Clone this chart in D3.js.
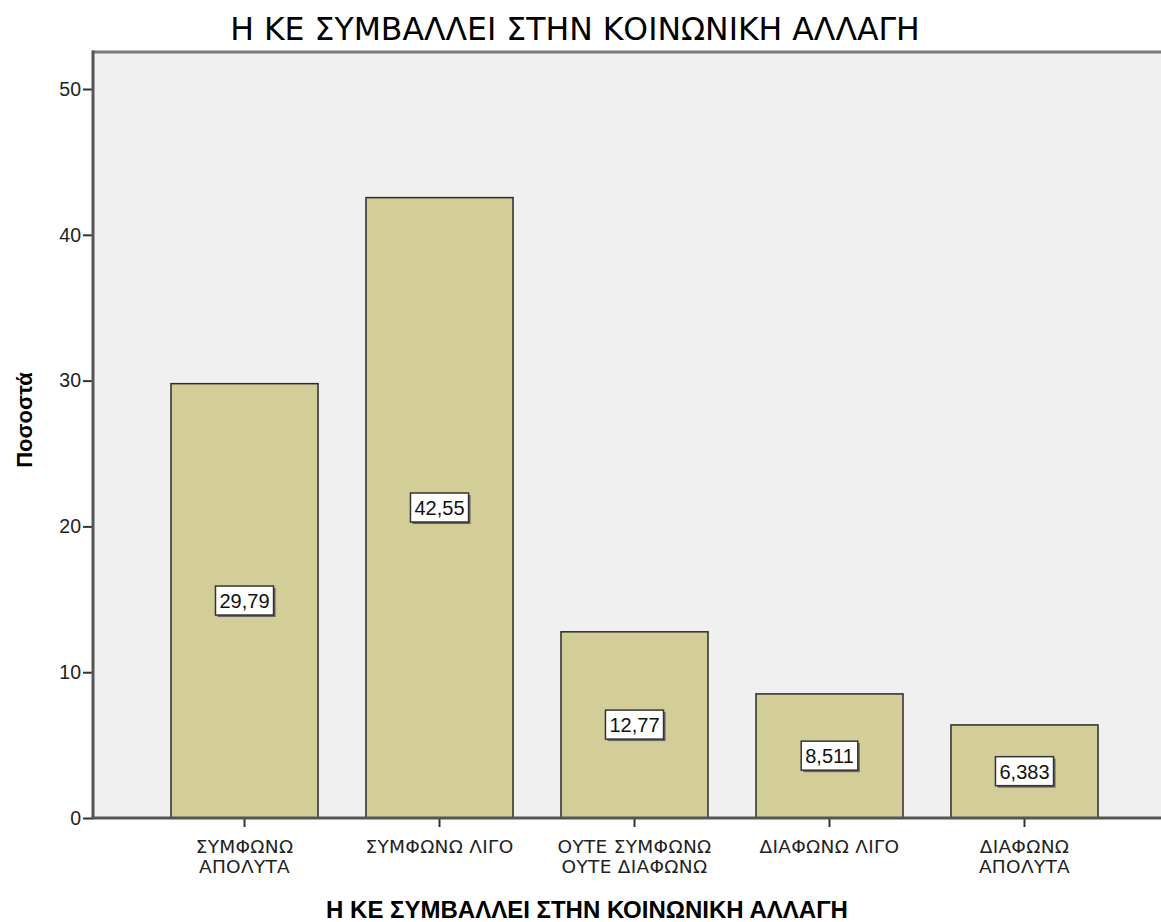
<!DOCTYPE html>
<html>
<head>
<meta charset="utf-8">
<script src="https://cdn.jsdelivr.net/npm/d3@7"></script>
<style>
  body { margin: 0; background: #fff; }
  svg { display: block; font-family: "Liberation Sans", Arial, sans-serif; }
</style>
</head>
<body>
<svg id="chart" width="1161" height="922"></svg>
<script>
// data
const categories = [
  ['ΣΥΜΦΩΝΩ', 'ΑΠΟΛΥΤΑ'],
  ['ΣΥΜΦΩΝΩ ΛΙΓΟ'],
  ['ΟΥΤΕ ΣΥΜΦΩΝΩ', 'ΟΥΤΕ ΔΙΑΦΩΝΩ'],
  ['ΔΙΑΦΩΝΩ ΛΙΓΟ'],
  ['ΔΙΑΦΩΝΩ', 'ΑΠΟΛΥΤΑ']
];
const percents = [29.79, 42.55, 12.77, 8.511, 6.383];
const yTicks = [0, 10, 20, 30, 40, 50];
const chartTitle = 'Η ΚΕ ΣΥΜΒΑΛΛΕΙ ΣΤΗΝ ΚΟΙΝΩΝΙΚΗ ΑΛΛΑΓΗ';
const xTitle = 'Η ΚΕ ΣΥΜΒΑΛΛΕΙ ΣΤΗΝ ΚΟΙΝΩΝΙΚΗ ΑΛΛΑΓΗ';
const yTitle = 'Ποσοστά';

const plot = {left: 93, right: 1176, top: 52, bottom: 818};

const svg = d3.select('#chart');
const keys = categories.map((c, i) => i);

const x = d3.scaleBand()
  .domain(keys)
  .range([plot.left, plot.right])
  .paddingInner(0.246)
  .paddingOuter(0.4);

const y = d3.scaleLinear()
  .domain([0, 50])
  .range([plot.bottom, 89]);

// plot background
svg.append('rect')
  .attr('x', plot.left)
  .attr('y', plot.top)
  .attr('width', plot.right - plot.left)
  .attr('height', plot.bottom - plot.top)
  .attr('fill', '#f0f0f0');

// bars
svg.selectAll('.bar')
  .data(percents)
  .enter()
  .append('rect')
  .attr('class', 'bar')
  .attr('x', (d, i) => x(i))
  .attr('y', d => y(d))
  .attr('width', x.bandwidth())
  .attr('height', d => y(0) - y(d))
  .attr('fill', '#d3ce98')
  .attr('stroke', '#2b2b2b')
  .attr('stroke-width', 1.5);

// top frame line
svg.append('line')
  .attr('x1', plot.left).attr('x2', plot.right)
  .attr('y1', plot.top).attr('y2', plot.top)
  .attr('stroke', '#7a7a7a')
  .attr('stroke-width', 3);

// y axis
const yAxis = svg.append('g')
  .attr('transform', `translate(${plot.left},0)`)
  .call(d3.axisLeft(y).tickValues(yTicks).tickSize(10).tickPadding(2).tickFormat(d3.format('d')));
yAxis.select('.domain').remove();
yAxis.selectAll('.tick line').attr('stroke', '#333').attr('stroke-width', 2);
yAxis.selectAll('.tick text').attr('font-size', 19.5).attr('fill', '#222')
  .attr('font-family', '"Liberation Sans", Arial, sans-serif');

svg.append('line')
  .attr('x1', plot.left).attr('x2', plot.left)
  .attr('y1', plot.top - 1.5).attr('y2', plot.bottom + 1)
  .attr('stroke', '#555')
  .attr('stroke-width', 3);

// x axis
const xAxis = svg.append('g')
  .attr('transform', `translate(0,${plot.bottom})`)
  .call(d3.axisBottom(x).tickSize(9).tickFormat(''));
xAxis.select('.domain').remove();
xAxis.selectAll('.tick line').attr('stroke', '#333').attr('stroke-width', 2);

svg.append('line')
  .attr('x1', plot.left - 1.5).attr('x2', plot.right)
  .attr('y1', plot.bottom).attr('y2', plot.bottom)
  .attr('stroke', '#555')
  .attr('stroke-width', 3);

// category labels
const catText = svg.selectAll('.cat')
  .data(categories)
  .enter()
  .append('text')
  .attr('class', 'cat')
  .attr('text-anchor', 'middle')
  .attr('font-family', '"DejaVu Sans", sans-serif')
  .attr('font-size', 18.5)
  .attr('letter-spacing', 0.3)
  .attr('fill', '#222');
catText.selectAll('tspan')
  .data((d, i) => d.map(line => ({line, i})))
  .enter()
  .append('tspan')
  .attr('x', d => x(d.i) + x.bandwidth() / 2)
  .attr('y', (d, j) => 853 + j * 20)
  .text(d => d.line);

// value labels
const labels = svg.selectAll('.vlabel')
  .data(percents)
  .enter()
  .append('g')
  .attr('class', 'vlabel')
  .attr('transform', (d, i) => `translate(${x(i) + x.bandwidth() / 2},${y(d / 2)})`);

labels.append('text')
  .attr('text-anchor', 'middle')
  .attr('dy', '0.36em')
  .attr('font-size', 20)
  .attr('fill', '#111')
  .text(d => String(d).replace('.', ','));

labels.each(function () {
  const g = d3.select(this);
  const bb = g.select('text').node().getBBox();
  const box = {x: bb.x - 4, y: bb.y - 4, w: bb.width + 8, h: bb.height + 7};
  g.insert('rect', 'text')
    .attr('x', box.x).attr('y', box.y)
    .attr('width', box.w).attr('height', box.h)
    .attr('fill', '#666')
    .attr('transform', 'translate(2,2)');
  g.insert('rect', 'text')
    .attr('x', box.x).attr('y', box.y)
    .attr('width', box.w).attr('height', box.h)
    .attr('fill', '#fff')
    .attr('stroke', '#333')
    .attr('stroke-width', 1.5);
});

// titles
svg.append('text')
  .attr('x', 575)
  .attr('y', 40)
  .attr('text-anchor', 'middle')
  .attr('font-family', '"DejaVu Sans", sans-serif')
  .attr('font-size', 31.5)
  .attr('fill', '#000')
  .text(chartTitle);

svg.append('text')
  .attr('x', 587)
  .attr('y', 918)
  .attr('text-anchor', 'middle')
  .attr('font-size', 24)
  .attr('font-weight', 'bold')
  .attr('fill', '#000')
  .text(xTitle);

svg.append('text')
  .attr('transform', 'translate(32,420) rotate(-90)')
  .attr('text-anchor', 'middle')
  .attr('font-size', 22)
  .attr('font-weight', 'bold')
  .attr('fill', '#000')
  .text(yTitle);
</script>
</body>
</html>
